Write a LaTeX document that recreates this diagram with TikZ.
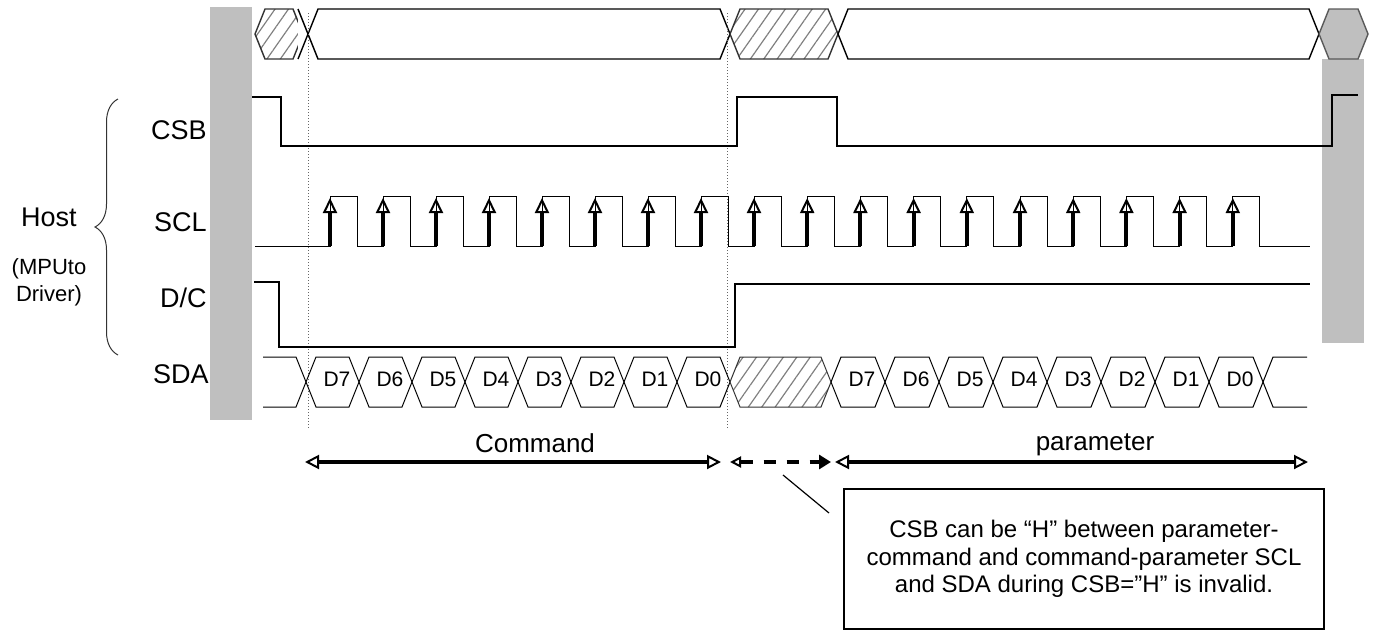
\documentclass[tikz,border=0pt]{standalone}
\usepackage{fontspec}
\setmainfont{Liberation Sans}
\usetikzlibrary{arrows.meta}
\usetikzlibrary{patterns.meta}
\usetikzlibrary{decorations.pathreplacing}

\tikzset{
  bus/.style={draw=black, line width=0.7pt, fill=white},
  hatched/.style={draw=black!80, line width=0.7pt, pattern={Lines[angle=55,distance=5.5pt,line width=0.6pt]}, pattern color=black!50},
  graybar/.style={fill=black!25},
  sig/.style={black, line width=0.6pt},
  sdabox/.style={black, line width=0.5pt},
  guide/.style={black!60, densely dotted, line width=0.5pt},
  lbl/.style={inner sep=0pt, font=\fontsize{13.5}{16}\selectfont},
  bitlbl/.style={inner sep=0pt, font=\fontsize{10.5}{12}\selectfont},
  tickarrow/.style={line width=2pt, -{Triangle[open,length=7.5pt,width=7pt,line width=1pt]}},
  spanarrow/.style={line width=2pt, {Triangle[open,length=7pt,width=7pt,line width=1pt]}-{Triangle[open,length=7pt,width=7pt,line width=1pt]}}
}

\begin{document}
\begin{tikzpicture}[x=0.5pt, y=-0.5pt]
        	\useasboundingbox (0,0) rectangle (1376,632);
        	\fill[graybar] (210,7) rectangle (252,420);
        	\fill[graybar] (1322,59) rectangle (1364,343);
        	% top bus
        	\draw[hatched] (255,34) -- (265,9) -- (293,9) -- (303,34) -- (293,59) -- (265,59) -- cycle;
        	\draw[bus] (308,34) -- (318,9) -- (720,9) -- (730,34) -- (720,59) -- (318,59) -- cycle;
        	\draw[bus] (298,9) -- (308,34) -- (298,59);
        	\draw[hatched] (730,34) -- (740,9) -- (828,9) -- (838,34) -- (828,59) -- (740,59) -- cycle;
        	\draw[bus] (838,34) -- (848,9) -- (1309,9) -- (1319,34) -- (1309,59) -- (848,59) -- cycle;
        	\draw[bus, fill=black!25, draw=black!65] (1319,34) -- (1329,9) -- (1358,9) -- (1368,34) -- (1358,59) -- (1329,59) -- cycle;
        	\draw[guide] (308,13) -- (308,429);
        	\draw[guide] (727,13) -- (727,429);
        	% CSB
        	\draw[sig] (252,97) -- (281,97) -- (281,146) -- (737,146) -- (737,97) -- (837,97) -- (837,146) -- (1332,146) -- (1332,95) -- (1358,95);
        	% SCL
        	\draw[sig, line width=0.5pt] (255,246)
        	  \foreach \k in {0,...,7} { -- (330+53*\k,246) -- ++(0,-50) -- ++(27,0) -- ++(0,50) }
        	  \foreach \k in {0,...,9} { -- (754+53.2*\k,246) -- ++(0,-50) -- ++(27,0) -- ++(0,50) }
        	  -- (1310,246);
        	\foreach \k in {0,...,7} \draw[tickarrow] (330+53*\k,246) -- (330+53*\k,198);
        	\foreach \k in {0,...,9} \draw[tickarrow] (754+53.2*\k,246) -- (754+53.2*\k,198);
        	% D/C
        	\draw[sig, line width=1pt] (254,282) -- (279,282) -- (279,347) -- (735,347) -- (735,284) -- (1310,284);
        	% SDA
        	\draw[sdabox] (263,357) -- (296,357) -- (306,382) -- (296,407) -- (263,407);
        	\foreach \k/\t in {0/D7,1/D6,2/D5,3/D4,4/D3,5/D2,6/D1,7/D0} {
        	  \draw[sdabox] (306+53*\k,382) -- ++(10,-25) -- ++(33,0) -- ++(10,25) -- ++(-10,25) -- ++(-33,0) -- cycle;
        	  \node[bitlbl] (S\k) at (337+53*\k,379) {\t};
        	}
        	\draw[hatched, line width=0.5pt] (730,382) -- (740,357) -- (821,357) -- (831,382) -- (821,407) -- (740,407) -- cycle;
        	\foreach \k/\t in {0/D7,1/D6,2/D5,3/D4,4/D3,5/D2,6/D1,7/D0} {
        	  \draw[sdabox] (831+54*\k,382) -- ++(10,-25) -- ++(34,0) -- ++(10,25) -- ++(-10,25) -- ++(-34,0) -- cycle;
        	  \node[bitlbl] (P\k) at (862+54*\k,379) {\t};
        	}
        	\draw[sdabox] (1307,357) -- (1273,357) -- (1263,382) -- (1273,407) -- (1307,407);
        	% labels
        	\node[lbl, anchor=east] (A) at (207,130) {CSB};
        	\node[lbl, anchor=east] (B) at (207,222) {SCL};
        	\node[lbl, anchor=east] (C) at (207,298) {D/C};
        	\node[lbl, anchor=east] (D) at (209,374) {SDA};
        	\node[lbl] (E) at (49,217) {Host};
        	\node[inner sep=0pt, align=center, font=\fontsize{11}{13.5}\selectfont] (F) at (49,282) {(MPUto\\Driver)};
        	\draw[black!80, line width=0.5pt, decorate, decoration={brace, amplitude=11.5pt}] (118,355) -- (118,99);
        	% spans
        	\node[inner sep=0pt, font=\fontsize{13}{15}\selectfont] (G) at (535,443) {Command};
        	\node[inner sep=0pt, font=\fontsize{13}{15}\selectfont] (H) at (1095,445) {parameter};
        	\coordinate (C1) at (305,462);
        	\coordinate (C2) at (721,462);
        	\coordinate (C3) at (730,462);
        	\coordinate (C4) at (831,462);
        	\coordinate (C5) at (835,462);
        	\coordinate (C6) at (1308,462);
        	\draw[spanarrow] (C1) -- (C2);
        	\draw[line width=2pt, dash pattern=on 6pt off 5.5pt, {Triangle[open,length=5.5pt,width=5.5pt,line width=1pt]}-{Triangle[length=6pt,width=7pt]}] (C3) -- (C4);
        	\draw[spanarrow] (C5) -- (C6);
        	% note
        	\node[draw, line width=0.6pt, minimum width=240pt, minimum height=70pt, align=center, font=\fontsize{12}{13.8}\selectfont] (N) at (1084,559) {CSB can be “H” between parameter-\\command and command-parameter SCL\\and SDA during CSB=”H” is invalid.};
        	\coordinate (L1) at (783,475);
        	\coordinate (L2) at (829,513);
        	\draw[line width=0.6pt] (L1) -- (L2);
\end{tikzpicture}
\end{document}
